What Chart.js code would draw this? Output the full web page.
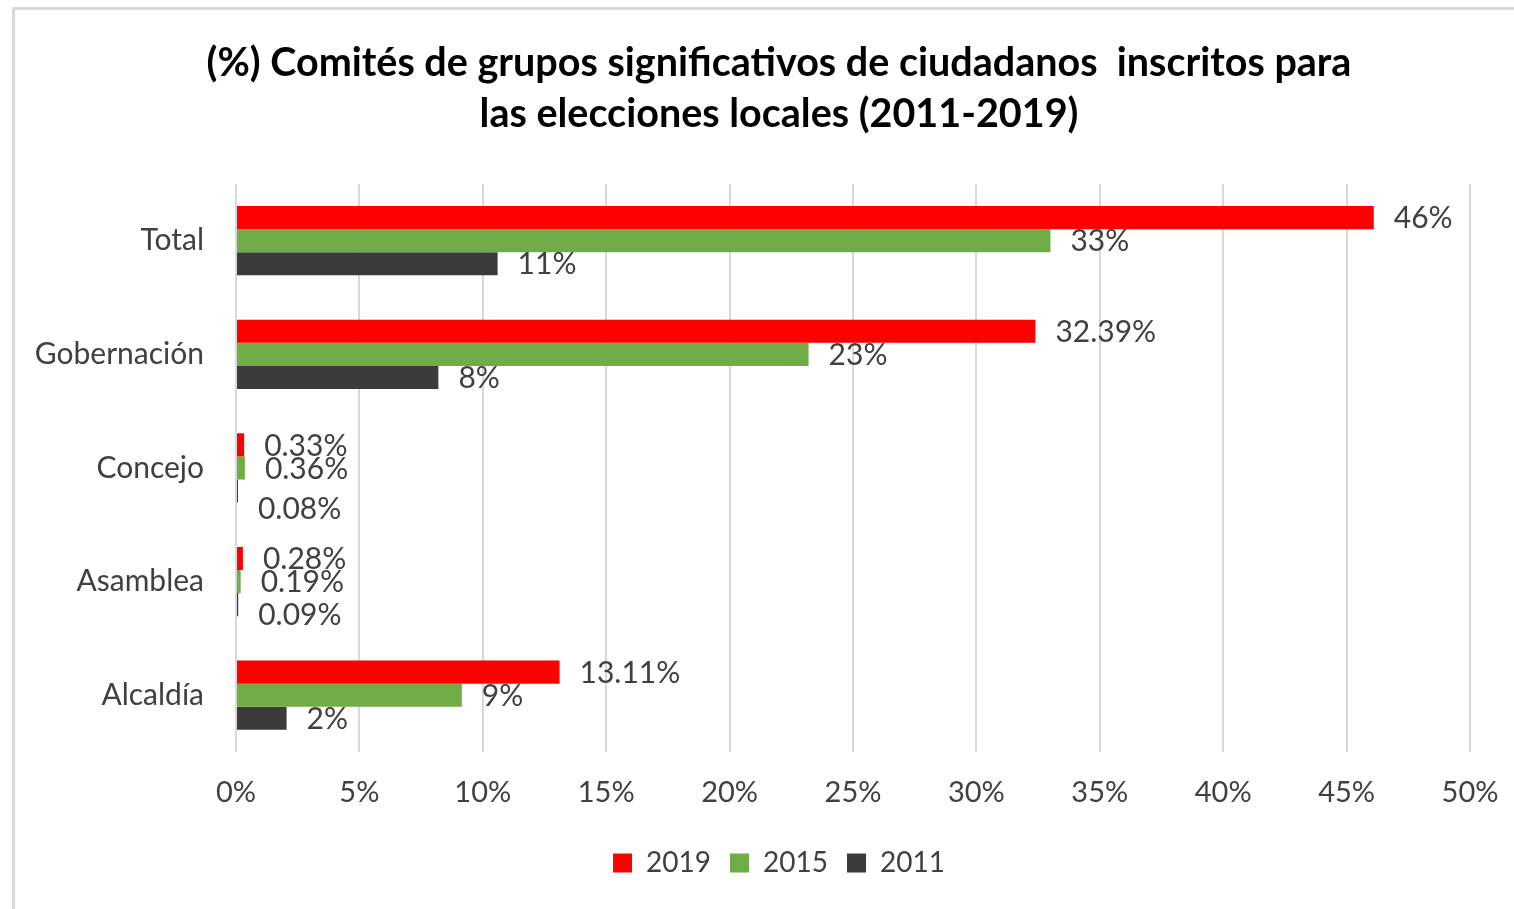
<!DOCTYPE html>
<html>
<head>
<meta charset="utf-8">
<script src="https://cdn.jsdelivr.net/npm/chart.js@4"></script>
<style>
    html, body { margin: 0; padding: 0; background: #fff; overflow: hidden; }
    #frame { position: absolute; left: 12px; top: 7px; width: 1600px; height: 1000px; border: 3px solid #d9d9d9; pointer-events: none; }
</style>
</head>
<body>
<canvas id="comitesChart" width="1514" height="909"></canvas>
<div id="frame"></div>
<script>
const categories = ['Total', 'Gobernación', 'Concejo', 'Asamblea', 'Alcaldía'];
const seriesNames = ['2019', '2015', '2011'];
const values2019 = [46.1, 32.39, 0.33, 0.28, 13.11];
const values2015 = [33.0, 23.2, 0.36, 0.19, 9.15];
const values2011 = [10.6, 8.2, 0.08, 0.09, 2.05];
const labels2019 = ['46%', '32.39%', '0.33%', '0.28%', '13.11%'];
const labels2015 = ['33%', '23%', '0.36%', '0.19%', '9%'];
const labels2011 = ['11%', '8%', '0.08%', '0.09%', '2%'];
const titleLines = ['(%) Comités de grupos significativos de ciudadanos  inscritos para', 'las elecciones locales (2011-2019)'];

const textColor = '#404040';
const fontFamily = 'Lato';

// value labels drawn at the end of each bar
const barLabels = {
    id: 'barLabels',
    afterDatasetsDraw(chart, args, opts) {
        const ctx = chart.ctx;
        ctx.save();
        ctx.font = '30px ' + fontFamily;
        ctx.fillStyle = textColor;
        ctx.textAlign = 'left';
        ctx.textBaseline = 'middle';
        chart.data.datasets.forEach((ds, i) => {
            const meta = chart.getDatasetMeta(i);
            const nudge = opts.nudge[i] || [];
            meta.data.forEach((bar, j) => {
                ctx.fillText(ds.valueLabels[j], bar.x + 20, bar.y + 1 + (nudge[j] || 0));
            });
        });
        ctx.restore();
    }
};

// title and legend sit centred on the outer frame, not on the canvas
const shiftHeader = {
    id: 'shiftHeader',
    afterLayout(chart, args, opts) {
        [chart.titleBlock, chart.legend].forEach(box => {
            if (!box) return;
            box.left += opts.dx;
            box.right += opts.dx;
        });
    }
};

function draw() {
    const ctx = document.getElementById('comitesChart').getContext('2d');
    new Chart(ctx, {
        type: 'bar',
        data: {
            labels: categories,
            datasets: [
                { label: seriesNames[0], data: values2019, valueLabels: labels2019, backgroundColor: '#ff0000' },
                { label: seriesNames[1], data: values2015, valueLabels: labels2015, backgroundColor: '#70ad47' },
                { label: seriesNames[2], data: values2011, valueLabels: labels2011, backgroundColor: '#3b3b3b' }
            ]
        },
        options: {
            indexAxis: 'y',
            responsive: false,
            animation: false,
            datasets: {
                bar: { categoryPercentage: 0.61, barPercentage: 1.0, borderWidth: 0 }
            },
            layout: { padding: { left: 0, right: 44, top: 0, bottom: 22 } },
            plugins: {
                title: {
                    display: true,
                    text: titleLines,
                    color: '#000',
                    font: { family: fontFamily, size: 39.5, weight: 'bold', lineHeight: 1.29 },
                    padding: { top: 38, bottom: 44 }
                },
                legend: {
                    position: 'bottom',
                    labels: {
                        boxWidth: 19,
                        boxHeight: 19,
                        padding: 19,
                        color: textColor,
                        font: { family: fontFamily, size: 28 }
                    }
                },
                tooltip: { enabled: false },
                barLabels: { nudge: [[], [], [0, 0, 17, 10, 0]] },
                shiftHeader: { dx: 44 }
            },
            scales: {
                x: {
                    min: 0,
                    max: 50,
                    ticks: {
                        stepSize: 5,
                        callback: v => v + '%',
                        color: textColor,
                        font: { family: fontFamily, size: 29 },
                        padding: 3
                    },
                    grid: { color: '#d9d9d9', lineWidth: 2, drawTicks: true, tickLength: 20, tickColor: 'rgba(0,0,0,0)' },
                    border: { display: false },
                    afterFit: scale => { scale.height = 78; }
                },
                y: {
                    ticks: {
                        color: textColor,
                        font: { family: fontFamily, size: 30 },
                        padding: 32
                    },
                    grid: { display: false, drawTicks: false },
                    border: { display: false },
                    afterFit: scale => { scale.width = 236; }
                }
            }
        },
        plugins: [barLabels, shiftHeader]
    });
}

Promise.all([
    document.fonts.load('28px Lato'),
    document.fonts.load('bold 39.5px Lato')
]).then(draw, draw);
</script>
</body>
</html>
